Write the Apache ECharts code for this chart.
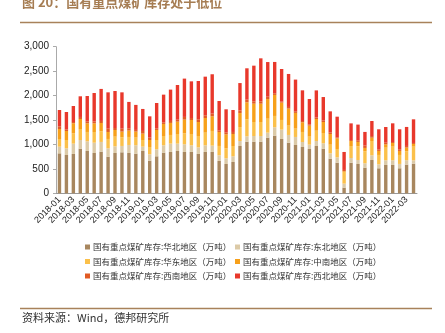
<!DOCTYPE html>
<html><head><meta charset="utf-8">
<script src="https://cdn.jsdelivr.net/npm/echarts@6/dist/echarts.min.js"></script>
<style>html,body{margin:0;padding:0;background:#fff}#c{width:445px;height:333px}</style>
</head><body><div id="c"></div>
<script>
const categories = [];
for (let y = 2018; y <= 2022; y++) for (let m = 1; m <= 12; m++) {
  if (y === 2022 && m > 4) break;
  categories.push(y + '-' + (m < 10 ? '0' + m : m));
}
const seriesNames = [
  '国有重点煤矿库存:华北地区（万吨）',
  '国有重点煤矿库存:东北地区（万吨）',
  '国有重点煤矿库存:华东地区（万吨）',
  '国有重点煤矿库存:中南地区（万吨）',
  '国有重点煤矿库存:西南地区（万吨）',
  '国有重点煤矿库存:西北地区（万吨）'
];
const huabei = [818,784,805,914,866,825,853,750,825,839,825,812,866,668,757,832,846,866,846,846,805,846,846,662,600,641,968,1057,1057,1057,1139,1180,1112,1037,989,948,907,968,914,709,627,116,627,600,525,682,512,580,580,512,587,607];
const dongbei = [136,136,211,177,198,211,198,171,136,130,164,171,89,130,143,150,171,150,157,136,136,136,130,116,116,116,102,109,116,116,102,171,191,157,164,102,89,102,109,109,109,82,95,82,89,95,82,95,95,89,89,68];
const huadong = [157,171,211,225,191,218,218,191,198,177,164,157,136,150,191,191,177,198,225,232,232,259,300,191,205,211,286,348,286,286,286,232,198,191,171,205,164,211,211,177,171,239,246,280,246,293,191,259,280,184,184,280];
const zhongnan = [205,184,205,205,177,177,170,143,136,116,130,123,130,143,205,246,246,252,280,286,286,300,300,286,286,246,286,348,375,375,402,430,355,348,321,198,225,239,225,218,218,14,102,89,68,68,82,68,75,82,75,55];
const xinan = [55,34,27,41,41,41,42,68,41,61,48,34,55,48,34,34,41,41,55,41,55,55,55,34,41,41,55,55,48,48,48,34,20,34,34,27,27,34,34,34,20,27,20,34,48,34,34,34,20,34,34,20];
const xibei = [334,355,327,423,518,580,655,743,757,743,539,512,450,436,518,566,641,709,784,750,784,791,805,600,471,450,559,641,730,880,709,641,668,675,648,627,518,552,477,430,423,368,341,321,280,307,409,321,382,409,389,484];
const yTicks = [0, 500, 1000, 1500, 2000, 2500, 3000];
const colors = ['#a8875f', '#dccaa7', '#fbc04a', '#f7a01a', '#e15a23', '#e8382b'];
const values = [huabei, dongbei, huadong, zhongnan, xinan, xibei];

const chart = echarts.init(document.getElementById('c'), null, {renderer: 'canvas'});
const fmt = v => String(v).replace(/\B(?=(\d{3})+(?!\d))/g, ',');
chart.setOption({
  animation: false,
  color: colors,
  grid: {left: 56, right: 28, top: 46.7, bottom: 139.7},
  xAxis: {
    type: 'category', data: categories,
    axisLine: {lineStyle: {color: '#999', width: 1}},
    axisTick: {show: false},
    axisLabel: {rotate: 45, interval: 1, fontSize: 9, color: '#222', fontFamily: 'Liberation Sans', margin: 5}
  },
  yAxis: {
    type: 'value', min: yTicks[0], max: yTicks[yTicks.length - 1], interval: 500,
    axisLine: {show: true, lineStyle: {color: '#aaa'}},
    axisTick: {show: true, length: 3, lineStyle: {color: '#aaa'}},
    splitLine: {show: false},
    axisLabel: {fontSize: 10, color: '#222', fontFamily: 'Liberation Sans', margin: 7, formatter: fmt}
  },
  legend: [
    {data: [seriesNames[0], seriesNames[2], seriesNames[4]], orient: 'vertical', left: 80, top: 237,
     icon: 'rect', itemWidth: 5, itemHeight: 5, itemGap: 4.5,
     textStyle: {fontSize: 8.5, lineHeight: 10, color: '#333', fontFamily: 'Noto Sans CJK SC', padding: [0, 0, 0, -2]}},
    {data: [seriesNames[1], seriesNames[3], seriesNames[5]], orient: 'vertical', left: 230, top: 237,
     icon: 'rect', itemWidth: 5, itemHeight: 5, itemGap: 4.5,
     textStyle: {fontSize: 8.5, lineHeight: 10, color: '#333', fontFamily: 'Noto Sans CJK SC', padding: [0, 0, 0, -2]}}
  ],
  series: seriesNames.map((n, i) => ({
    name: n, type: 'bar', stack: 'total', data: values[i], barWidth: 3.4
  })),
  graphic: [
    {type: 'text', left: 22, top: -4, style: {text: '图 20：国有重点煤矿库存处于低位', fontSize: 13, fontWeight: 'bold', fill: '#a67d53', fontFamily: 'Noto Sans CJK SC'}},
    {type: 'line', shape: {x1: 20, y1: 22.5, x2: 432, y2: 22.5}, style: {stroke: '#a8825a', lineWidth: 1.5}},
    {type: 'line', shape: {x1: 20, y1: 308.5, x2: 432, y2: 308.5}, style: {stroke: '#a8825a', lineWidth: 1.5}},
    {type: 'text', left: 22, top: 312, style: {text: '资料来源：Wind，德邦研究所', fontSize: 11, fill: '#333', fontFamily: 'Noto Sans CJK SC'}}
  ]
});
</script></body></html>
